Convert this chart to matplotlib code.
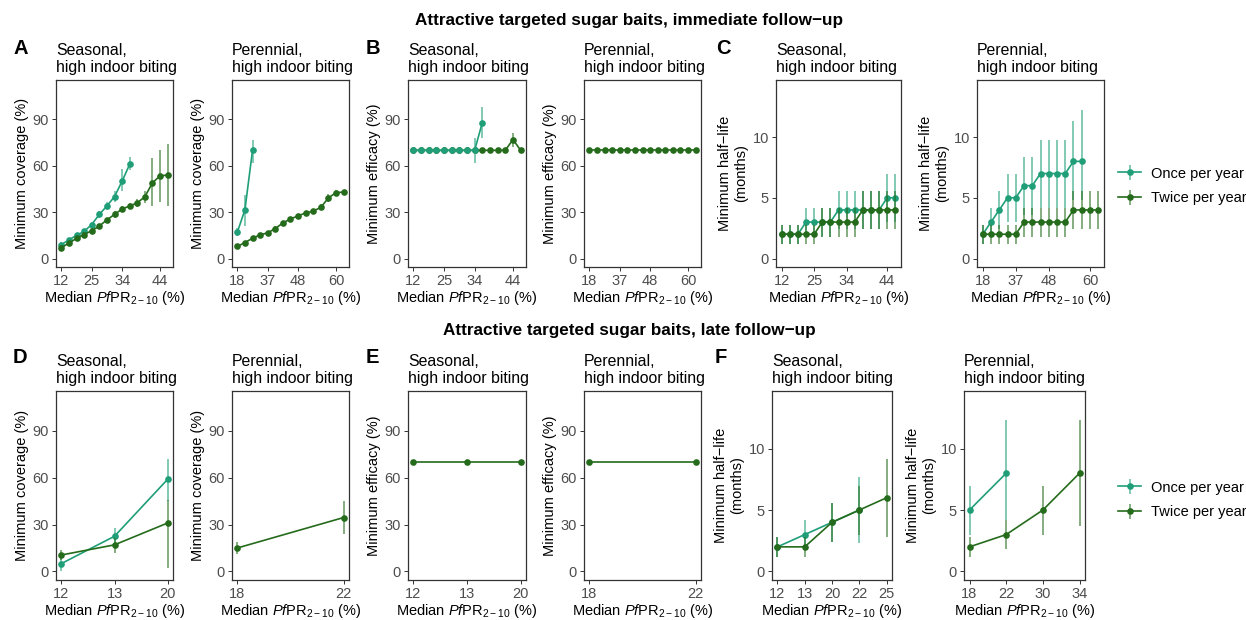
import numpy as np
import matplotlib
matplotlib.use("Agg")
import matplotlib.pyplot as plt

plt.rcParams['font.family'] = ['Liberation Sans', 'DejaVu Sans']
plt.rcParams['mathtext.fontset'] = 'custom'
plt.rcParams['mathtext.rm'] = 'Liberation Sans'
plt.rcParams['mathtext.it'] = 'Liberation Sans:italic'

ONCE = '#1f9e78'
TWICE = '#256b1c'

# x tick labels (median PfPR categories)
seas_ticks = [0, 4, 8, 13]
seas_labels = ['12', '25', '34', '44']
per_ticks = [0, 4, 8, 13]
per_labels = ['18', '37', '48', '60']
late_seas_labels = ['12', '13', '20']
late_per_labels = ['18', '22']
late_hl_seas_labels = ['12', '13', '20', '22', '25']
late_hl_per_labels = ['18', '22', '30', '34']

# A: minimum coverage, immediate follow-up
cov_s_once = [9, 12, 15, 17.5, 22, 28.5, 34, 40, 50, 61]
cov_s_once_lo = [7.5, 10.5, 13.5, 16, 20.5, 26.5, 31.5, 36.5, 43.5, 57]
cov_s_once_hi = [10.5, 13.5, 16.5, 19, 23.5, 30.5, 36.5, 43.5, 58, 65.5]
cov_s_twice = [7, 10, 13, 15.5, 18, 21, 25, 28.5, 32, 34, 36, 40, 49, 53.5, 54]
cov_s_twice_lo = [5.5, 8.5, 11.5, 14, 16.5, 19.5, 23.5, 26.5, 30, 32, 33.5, 36, 34, 36.5, 34]
cov_s_twice_hi = [8.5, 11.5, 14.5, 17, 19.5, 22.5, 26.5, 30.5, 34, 36, 38.5, 43.5, 65, 70.5, 74]
cov_p_once = [17, 31.5, 70]
cov_p_once_lo = [14.5, 21, 62]
cov_p_once_hi = [20, 41, 77]
cov_p_twice = [7.8, 10.3, 13.1, 15.3, 16.6, 19.4, 23, 25.6, 27.6, 29.5, 30.6, 33.2, 39.2, 42.7, 42.9]
cov_p_twice_lo = [6.5, 9, 11.8, 14, 15.3, 18, 21.5, 24.2, 26.2, 28, 29.2, 31.5, 36.5, 41, 41.5]
cov_p_twice_hi = [9.1, 11.6, 14.4, 16.6, 17.9, 20.8, 24.5, 27, 29, 31, 32, 35, 41.8, 44.4, 44.3]

# B: minimum efficacy, immediate follow-up
eff_s_once = [70, 70, 70, 70, 70, 70, 70, 70, 70, 88]
eff_s_once_lo = [69.5, 69.5, 69.5, 69.5, 69.5, 69.5, 69.5, 69.5, 62, 78]
eff_s_once_hi = [70.5, 70.5, 70.5, 70.5, 70.5, 70.5, 70.5, 70.5, 78, 98]
eff_s_twice = [70, 70, 70, 70, 70, 70, 70, 70, 70, 70, 70, 70, 70, 77, 70]
eff_s_twice_lo = [69.5, 69.5, 69.5, 69.5, 69.5, 69.5, 69.5, 69.5, 69.5, 69.5, 69.5, 69.5, 69.5, 72, 69.5]
eff_s_twice_hi = [70.5, 70.5, 70.5, 70.5, 70.5, 70.5, 70.5, 70.5, 70.5, 70.5, 70.5, 70.5, 70.5, 81, 70.5]
eff_p_twice = [70, 70, 70, 70, 70, 70, 70, 70, 70, 70, 70, 70, 70, 70, 70]
eff_p_twice_lo = [69.5] * 15
eff_p_twice_hi = [70.5] * 15

# C: minimum half-life, immediate follow-up
hl_s_once = [2, 2, 2, 3, 3, 3, 3, 4, 4, 4, 4, 4, 4, 5, 5]
hl_s_once_lo = [1.2, 1.2, 1.2, 1.8, 1.8, 1.8, 1.8, 2.4, 2.4, 2.4, 2.4, 2.4, 2.4, 3, 3]
hl_s_once_hi = [2.8, 2.8, 2.8, 4.2, 4.2, 4.2, 4.2, 5.6, 5.6, 5.6, 5.6, 5.6, 5.6, 7, 7]
hl_s_twice = [2, 2, 2, 2, 2, 3, 3, 3, 3, 3, 4, 4, 4, 4, 4]
hl_s_twice_lo = [1.2, 1.2, 1.2, 1.2, 1.2, 1.8, 1.8, 1.8, 1.8, 1.8, 2.4, 2.4, 2.4, 2.4, 2.4]
hl_s_twice_hi = [2.8, 2.8, 2.8, 2.8, 2.8, 4.2, 4.2, 4.2, 4.2, 4.2, 5.6, 5.6, 5.6, 5.6, 5.6]
hl_p_once = [2, 3, 4, 5, 5, 6, 6, 7, 7, 7, 7, 8, 8]
hl_p_once_lo = [1.2, 1.8, 2.4, 3, 3, 3.6, 3.6, 4.2, 4.2, 4.2, 4.2, 4.8, 4.8]
hl_p_once_hi = [2.8, 4.2, 5.6, 7, 7, 8.4, 8.4, 9.8, 9.8, 9.8, 9.8, 11.3, 12.2]
hl_p_twice = [2, 2, 2, 2, 2, 3, 3, 3, 3, 3, 3, 4, 4, 4, 4]
hl_p_twice_lo = [1.2, 1.2, 1.2, 1.2, 1.2, 1.8, 1.8, 1.8, 1.8, 1.8, 1.8, 2.4, 2.4, 2.4, 2.4]
hl_p_twice_hi = [2.8, 2.8, 2.8, 2.8, 2.8, 4.2, 4.2, 4.2, 4.2, 4.2, 4.2, 5.6, 5.6, 5.6, 5.6]

# D: minimum coverage, late follow-up
lcov_s_once = [5, 22.5, 59]
lcov_s_once_lo = [0.5, 18.5, 45]
lcov_s_once_hi = [9.5, 27.5, 72]
lcov_s_twice = [10.5, 17, 31]
lcov_s_twice_lo = [7.5, 12, 2.5]
lcov_s_twice_hi = [13.5, 21.5, 46]
lcov_p_twice = [15, 34.5]
lcov_p_twice_lo = [11, 24]
lcov_p_twice_hi = [19, 45]

# E: minimum efficacy, late follow-up
leff_s_twice = [70, 70, 70]
leff_s_twice_lo = [69.5, 69.5, 69.5]
leff_s_twice_hi = [70.5, 70.5, 70.5]
leff_p_twice = [70, 70]
leff_p_twice_lo = [69.5, 69.5]
leff_p_twice_hi = [70.5, 70.5]

# F: minimum half-life, late follow-up
lhl_s_once = [2, 3, 4, 5]
lhl_s_once_lo = [1.2, 1.8, 2.4, 2.3]
lhl_s_once_hi = [2.8, 4.2, 5.6, 7.7]
lhl_s_twice = [2, 2, 4, 5, 6]
lhl_s_twice_lo = [1.2, 1.2, 2.4, 3, 2.8]
lhl_s_twice_hi = [2.8, 2.8, 5.6, 7, 9.2]
lhl_p_once = [5, 8]
lhl_p_once_lo = [3, 4.2]
lhl_p_once_hi = [7, 12.3]
lhl_p_twice = [2, 3, 5, 8]
lhl_p_twice_lo = [1.2, 1.8, 3, 3.7]
lhl_p_twice_hi = [2.8, 4.2, 7, 12.3]

W, H = 1246, 620
fig = plt.figure(figsize=(W / 100, H / 100), dpi=100)

XLAB = r'Median $\mathit{Pf}$PR$_{2-10}$ (%)'
COV = 'Minimum coverage (%)'
EFF = 'Minimum efficacy (%)'
HL = 'Minimum half\u2212life\n(months)'
SEAS = 'Seasonal,\nhigh indoor biting'
PER = 'Perennial,\nhigh indoor biting'


def add_axes(x0, x1, y0, y1):
    return fig.add_axes([x0 / W, 1 - y1 / H, (x1 - x0) / W, (y1 - y0) / H])


def draw_series(ax, y, lo, hi, color, z):
    y = np.asarray(y, dtype=float)
    x = np.arange(len(y))
    yerr = np.vstack([y - np.asarray(lo), np.asarray(hi) - y])
    cont = ax.errorbar(x, y, yerr=yerr, color=color, ecolor=color, elinewidth=1.2,
                       lw=1.2, marker='o', ms=4.8, mew=0, capsize=0, zorder=z)
    cont.lines[2][0].set_alpha(0.65)
    return cont


def style(ax, ticks, labels, ylabel, half_life, title, n):
    ax.set_xlim(-0.05 * (n - 1), (n - 1) * 1.05)
    ax.set_xticks(ticks)
    ax.set_xticklabels(labels)
    if half_life:
        ax.set_ylim(-0.7, 14.7)
        ax.set_yticks([0, 5, 10])
    else:
        ax.set_ylim(-5.5, 115.5)
        ax.set_yticks([0, 30, 60, 90])
    for s in ax.spines.values():
        s.set_color('#333333')
        s.set_linewidth(0.9)
    ax.tick_params(length=3, width=0.7, color='#333333', labelcolor='#4d4d4d',
                   labelsize=10.5, pad=2)
    ax.set_xlabel(XLAB, fontsize=10.5, labelpad=1)
    ax.set_ylabel(ylabel, fontsize=10.5, labelpad=3)
    ax.set_title(title, loc='left', fontsize=11.4, pad=6, linespacing=1.1)


# row 1 panels
r1 = (80, 267)
axA1 = add_axes(56, 173, *r1)
draw_series(axA1, cov_s_once, cov_s_once_lo, cov_s_once_hi, ONCE, 2)
draw_series(axA1, cov_s_twice, cov_s_twice_lo, cov_s_twice_hi, TWICE, 3)
style(axA1, seas_ticks, seas_labels, COV, False, SEAS, len(cov_s_twice))

axA2 = add_axes(232, 349, *r1)
draw_series(axA2, cov_p_once, cov_p_once_lo, cov_p_once_hi, ONCE, 2)
draw_series(axA2, cov_p_twice, cov_p_twice_lo, cov_p_twice_hi, TWICE, 3)
style(axA2, per_ticks, per_labels, COV, False, PER, len(cov_p_twice))

axB1 = add_axes(408, 526, *r1)
draw_series(axB1, eff_s_twice, eff_s_twice_lo, eff_s_twice_hi, TWICE, 2)
draw_series(axB1, eff_s_once, eff_s_once_lo, eff_s_once_hi, ONCE, 3)
style(axB1, seas_ticks, seas_labels, EFF, False, SEAS, len(eff_s_twice))

axB2 = add_axes(584, 701, *r1)
draw_series(axB2, eff_p_twice, eff_p_twice_lo, eff_p_twice_hi, TWICE, 3)
style(axB2, per_ticks, per_labels, EFF, False, PER, len(eff_p_twice))

axC1 = add_axes(776, 901, *r1)
h_once = draw_series(axC1, hl_s_once, hl_s_once_lo, hl_s_once_hi, ONCE, 2)
h_twice = draw_series(axC1, hl_s_twice, hl_s_twice_lo, hl_s_twice_hi, TWICE, 3)
style(axC1, seas_ticks, seas_labels, HL, True, SEAS, len(hl_s_twice))

axC2 = add_axes(977, 1104, *r1)
draw_series(axC2, hl_p_once, hl_p_once_lo, hl_p_once_hi, ONCE, 2)
draw_series(axC2, hl_p_twice, hl_p_twice_lo, hl_p_twice_hi, TWICE, 3)
style(axC2, per_ticks, per_labels, HL, True, PER, len(hl_p_twice))

# row 2 panels
r2 = (391, 580)
axD1 = add_axes(56, 173, *r2)
draw_series(axD1, lcov_s_once, lcov_s_once_lo, lcov_s_once_hi, ONCE, 2)
draw_series(axD1, lcov_s_twice, lcov_s_twice_lo, lcov_s_twice_hi, TWICE, 3)
style(axD1, range(3), late_seas_labels, COV, False, SEAS, 3)

axD2 = add_axes(232, 349, *r2)
draw_series(axD2, lcov_p_twice, lcov_p_twice_lo, lcov_p_twice_hi, TWICE, 3)
style(axD2, range(2), late_per_labels, COV, False, PER, 2)

axE1 = add_axes(408, 526, *r2)
draw_series(axE1, leff_s_twice, leff_s_twice_lo, leff_s_twice_hi, TWICE, 3)
style(axE1, range(3), late_seas_labels, EFF, False, SEAS, 3)

axE2 = add_axes(584, 701, *r2)
draw_series(axE2, leff_p_twice, leff_p_twice_lo, leff_p_twice_hi, TWICE, 3)
style(axE2, range(2), late_per_labels, EFF, False, PER, 2)

axF1 = add_axes(772, 892, *r2)
draw_series(axF1, lhl_s_once, lhl_s_once_lo, lhl_s_once_hi, ONCE, 2)
draw_series(axF1, lhl_s_twice, lhl_s_twice_lo, lhl_s_twice_hi, TWICE, 3)
style(axF1, range(5), late_hl_seas_labels, HL, True, SEAS, 5)

axF2 = add_axes(964, 1085, *r2)
draw_series(axF2, lhl_p_once, lhl_p_once_lo, lhl_p_once_hi, ONCE, 2)
draw_series(axF2, lhl_p_twice, lhl_p_twice_lo, lhl_p_twice_hi, TWICE, 3)
style(axF2, range(4), late_hl_per_labels, HL, True, PER, 4)

# row titles and panel letters
fig.text(629 / W, 1 - 25 / H, 'Attractive targeted sugar baits, immediate follow\u2212up',
         ha='center', va='baseline', fontsize=12.3, fontweight='bold')
fig.text(629 / W, 1 - 335 / H, 'Attractive targeted sugar baits, late follow\u2212up',
         ha='center', va='baseline', fontsize=12.3, fontweight='bold')
for letter, px, py in [('A', 13, 54), ('B', 366, 54), ('C', 716, 54),
                       ('D', 13, 363), ('E', 366, 363), ('F', 715, 363)]:
    fig.text(px / W, 1 - py / H, letter, ha='left', va='baseline',
             fontsize=14.5, fontweight='bold')

labels = ['Once per year', 'Twice per year']
for cy in (186, 500):
    fig.legend([h_once, h_twice], labels, loc='center left',
               bbox_to_anchor=(1112 / W, 1 - cy / H), frameon=False,
               fontsize=10.5, handlelength=1.6, handletextpad=0.7,
               labelspacing=0.75, borderaxespad=0)

fig.savefig('out.png', dpi=100)
